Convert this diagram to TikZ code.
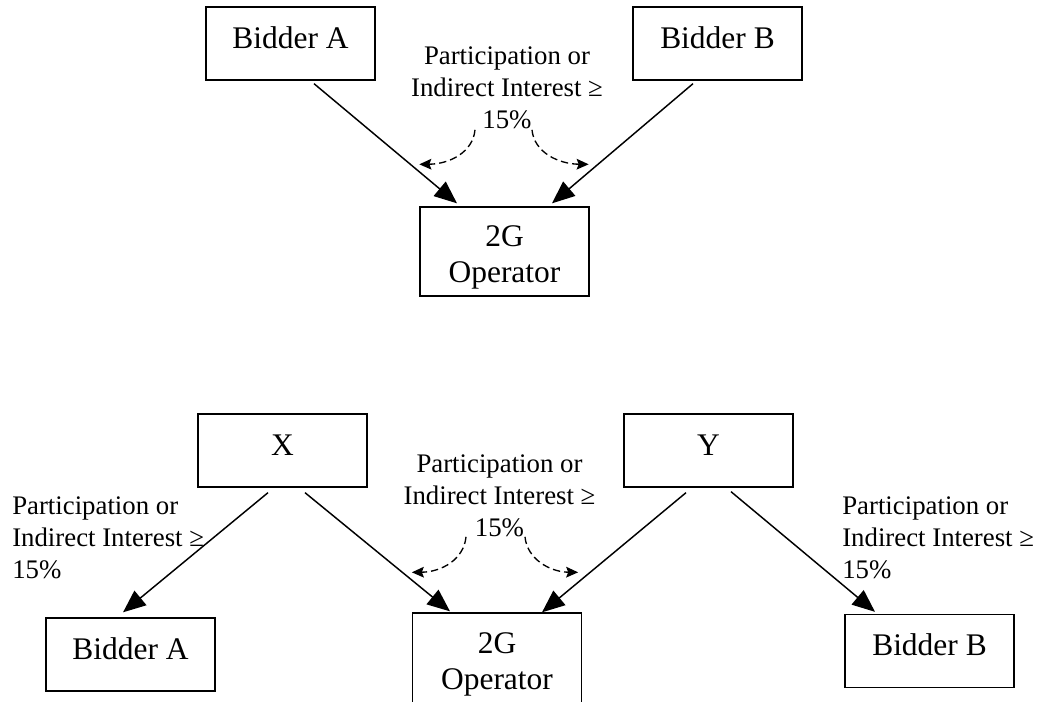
\documentclass[tikz,border=0pt]{standalone}
\usepackage{fontspec}
\setmainfont{Liberation Serif}
\usetikzlibrary{arrows.meta,calc}
\newcommand{\boxfont}{\fontsize{23.6pt}{27pt}\selectfont}
\newcommand{\lblfont}{\fontsize{20.1pt}{24pt}\selectfont}
\begin{document}
\begin{tikzpicture}[x=0.75pt,y=-0.75pt,
  box/.style={draw, line width=1pt, minimum width=126.75pt, minimum height=54.75pt,
    inner sep=0pt, font=\boxfont, text height=16pt, text depth=9pt},
  opbox/.style={draw, line width=1pt, minimum width=126.75pt, minimum height=66.75pt, inner sep=0pt},
  optext/.style={font=\boxfont, align=center, yshift=-4.4pt},
  lbl/.style={font=\lblfont, inner sep=0pt},
  mainarr/.style={line width=1.1pt, -{Triangle[length=17pt,width=14pt]}},
  dasharr/.style={line width=1pt, dash pattern=on 5.5pt off 3pt,
    -{Stealth[length=9pt,width=8pt,inset=1.5pt]}}]
\useasboundingbox (0,0) rectangle (1042,702);

% ---------- top diagram ----------
\node[box] (bA1) at (290.5,43.5) {Bidder A};
\node[box] (bB1) at (717.5,43.5) {Bidder B};
\node[opbox, label={[optext, name=op1t]center:2G\\Operator}] (op1) at (504.5,251.5) {};
\node[lbl, align=center] (t1) at (507,87.5) {Participation or\\Indirect Interest ≥\\15\%};

\draw[mainarr] ($(bA1.south)+(23.5,3)$) -- ($(op1.north)+(-47.5,-3)$);
\draw[mainarr] ($(bB1.south)+(-24.5,3)$) -- ($(op1.north)+(47.5,-3)$);

\coordinate (d1s) at ($(t1.south)+(-32,1)$);
\coordinate (d2s) at ($(t1.south)+(25,1)$);
\coordinate (d1e) at ($(op1.north west)+(0,-42)$);
\coordinate (d2e) at ($(op1.north east)+(-1,-42)$);
\draw[dasharr] (d1s) .. controls (473,152) and (450,164) .. (d1e);
\draw[dasharr] (d2s) .. controls (534,152) and (558,164) .. (d2e);

% ---------- bottom diagram ----------
\node[box] (X) at (282.5,450.5) {X};
\node[box] (Y) at (708.5,450.5) {Y};
\node[box] (bA2) at (130.5,654.5) {Bidder A};
\node[box] (bB2) at (929.5,651) {Bidder B};
\node[opbox, minimum height=68.25pt, label={[optext, name=op2t]center:2G\\Operator}] (op2) at (497,658.5) {};

\node[lbl, align=left, anchor=west] (l2) at (12,537.5) {Participation or\\Indirect Interest ≥\\15\%};
\node[lbl, align=center] (m2) at (499.5,495.5) {Participation or\\Indirect Interest ≥\\15\%};
\node[lbl, align=left, anchor=west] (r2) at (842,537.5) {Participation or\\Indirect Interest ≥\\15\%};

\draw[mainarr] ($(X.south)+(-14.5,5)$) -- ($(bA2.north)+(-7.5,-5)$);
\draw[mainarr] ($(X.south)+(22.5,5)$) -- ($(op2.north)+(-47,-1)$);
\draw[mainarr] ($(Y.south)+(-22.5,5)$) -- ($(op2.north)+(45,0)$);
\draw[mainarr] ($(Y.south)+(22.5,4)$) -- ($(bB2.north)+(-54.5,-2)$);

\coordinate (d3s) at ($(m2.south)+(-33.5,0)$);
\coordinate (d4s) at ($(m2.south)+(25.5,0)$);
\coordinate (d3e) at ($(op2.north west)+(0,-40)$);
\coordinate (d4e) at ($(op2.north east)+(-4,-40)$);
\draw[dasharr] (d3s) .. controls (464,559) and (442,572) .. (d3e);
\draw[dasharr] (d4s) .. controls (527,559) and (550,572) .. (d4e);
\end{tikzpicture}
\end{document}
